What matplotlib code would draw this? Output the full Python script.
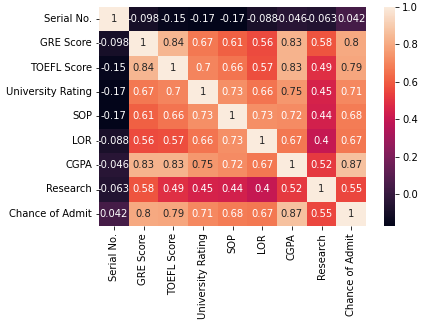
import numpy as np
import pandas as pd
import matplotlib
matplotlib.use("Agg")
import matplotlib.pyplot as plt
import seaborn as sns

columns = ["Serial No.", "GRE Score", "TOEFL Score", "University Rating",
           "SOP", "LOR", "CGPA", "Research", "Chance of Admit"]

# correlation matrix
corr_values = [
    [1.0, -0.098, -0.15, -0.17, -0.17, -0.088, -0.046, -0.063, 0.042],
    [-0.098, 1.0, 0.84, 0.67, 0.61, 0.56, 0.83, 0.58, 0.8],
    [-0.15, 0.84, 1.0, 0.7, 0.66, 0.57, 0.83, 0.49, 0.79],
    [-0.17, 0.67, 0.7, 1.0, 0.73, 0.66, 0.75, 0.45, 0.71],
    [-0.17, 0.61, 0.66, 0.73, 1.0, 0.73, 0.72, 0.44, 0.68],
    [-0.088, 0.56, 0.57, 0.66, 0.73, 1.0, 0.67, 0.4, 0.67],
    [-0.046, 0.83, 0.83, 0.75, 0.72, 0.67, 1.0, 0.52, 0.87],
    [-0.063, 0.58, 0.49, 0.45, 0.44, 0.4, 0.52, 1.0, 0.55],
    [0.042, 0.8, 0.79, 0.71, 0.68, 0.67, 0.87, 0.55, 1.0],
]

corr = pd.DataFrame(np.array(corr_values), index=columns, columns=columns)

fig = plt.figure(figsize=(424 / 72, 328 / 72), dpi=72)
ax = fig.add_axes([99 / 424, 102 / 328, 267 / 424, 219 / 328])
cax = fig.add_axes([384 / 424, 102 / 328, 11 / 424, 219 / 328])

sns.heatmap(corr, annot=True, ax=ax, cbar_ax=cax)
ax.tick_params(axis="x", labelrotation=90)
ax.tick_params(axis="y", labelrotation=0)

fig.savefig("out.png", dpi=72)
